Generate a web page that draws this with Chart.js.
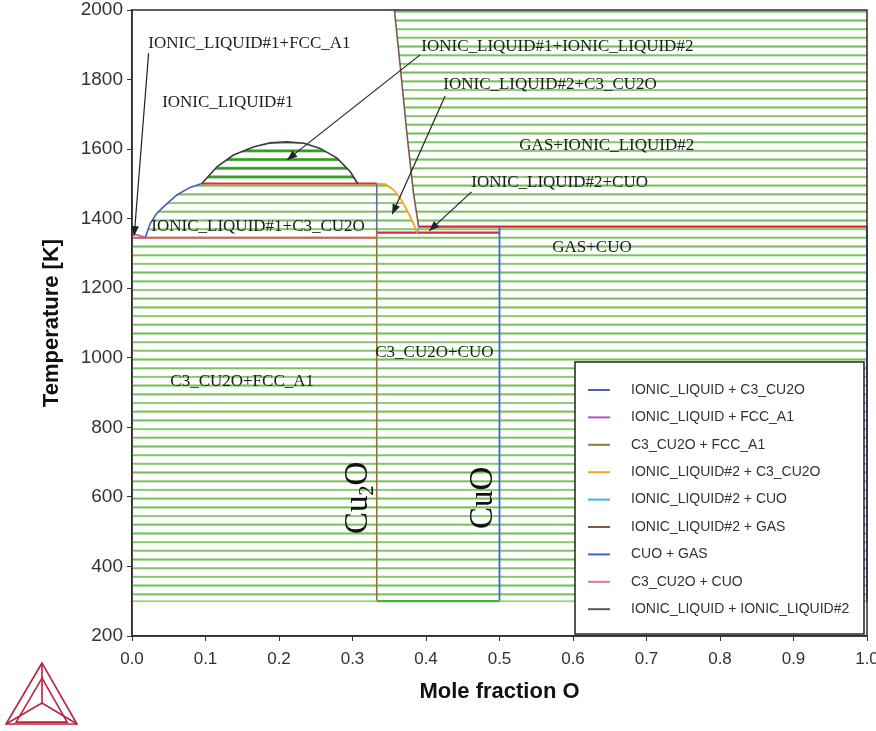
<!DOCTYPE html>
<html>
<head>
<meta charset="utf-8">
<script src="https://cdn.jsdelivr.net/npm/chart.js@4/dist/chart.umd.min.js"></script>
<style>
  html, body { margin: 0; padding: 0; background: #fff; }
  #wrap { width: 876px; height: 731px; }
</style>
</head>
<body>
<div id="wrap"><canvas id="c" width="876" height="731"></canvas></div>
<script>
// Cu–O phase diagram: x = mole fraction O, T in kelvin

// invariant temperatures and line compounds
const X_CU2O = 0.333;
const X_CUO = 0.5;
const T_LOW = 300;        // lowest calculated temperature
const T_EUTECTIC = 1345;  // liquid#1 + Cu2O + fcc
const T_MONOTECTIC = 1501;
const T_CU2O_CUO = 1360;  // liquid#2 + Cu2O + CuO
const T_CUO_GAS = 1377;   // liquid#2 + CuO + gas
const T_TOP = 2000;

// liquidus of Cu2O on the Cu side (IONIC_LIQUID + C3_CU2O)
const liqCu2O_x = [0.018, 0.025, 0.034, 0.048, 0.061, 0.079, 0.095];
const liqCu2O_T = [1346, 1387, 1416, 1444, 1468, 1490, 1501];

// liquidus of Cu (IONIC_LIQUID + FCC_A1)
const liqFcc_x = [0.0, 0.018];
const liqFcc_T = [1358, 1346];

// liquid miscibility gap (IONIC_LIQUID + IONIC_LIQUID#2)
const gap_x = [0.095, 0.116, 0.138, 0.166, 0.188, 0.211, 0.234, 0.256, 0.279, 0.297, 0.307];
const gap_T = [1501, 1550, 1583, 1607, 1618, 1621, 1617, 1602, 1574, 1535, 1501];

// liquidus of Cu2O on the O side (IONIC_LIQUID#2 + C3_CU2O)
const liq2Cu2O_x = [0.333, 0.345, 0.356, 0.365, 0.374, 0.381, 0.388];
const liq2Cu2O_T = [1501, 1499, 1483, 1459, 1425, 1396, 1360];

// IONIC_LIQUID#2 + CUO
const liq2CuO_x = [0.388, 0.390];
const liq2CuO_T = [1360, 1377];

// IONIC_LIQUID#2 + GAS
const liq2Gas_x = [0.390, 0.383, 0.374, 0.365, 0.357];
const liq2Gas_T = [1377, 1473, 1645, 1837, 2000];

// axis ticks
const xTicks = [0, 0.1, 0.2, 0.3, 0.4, 0.5, 0.6, 0.7, 0.8, 0.9, 1.0];
const yTicks = [200, 400, 600, 800, 1000, 1200, 1400, 1600, 1800, 2000];

// tie-line spacing inside two-phase fields
const TIE_STEP = 25;
const TIE_REF = 320;

// legend
const legendLabels = [
  'IONIC_LIQUID + C3_CU2O', 'IONIC_LIQUID + FCC_A1', 'C3_CU2O + FCC_A1',
  'IONIC_LIQUID#2 + C3_CU2O', 'IONIC_LIQUID#2 + CUO', 'IONIC_LIQUID#2 + GAS',
  'CUO + GAS', 'C3_CU2O + CUO', 'IONIC_LIQUID + IONIC_LIQUID#2'
];
const legendColors = [
  '#4f5bb0', '#b34fc8', '#8c7d45', '#f5a623', '#41b6e6', '#7b5a4a',
  '#3f66d8', '#cf7d93', '#5a5a5a'
];

// phase field labels
const fieldText = [
  'IONIC_LIQUID#1+FCC_A1', 'IONIC_LIQUID#1', 'IONIC_LIQUID#1+IONIC_LIQUID#2',
  'IONIC_LIQUID#2+C3_CU2O', 'GAS+IONIC_LIQUID#2', 'IONIC_LIQUID#2+CUO',
  'IONIC_LIQUID#1+C3_CU2O', 'GAS+CUO', 'C3_CU2O+CUO', 'C3_CU2O+FCC_A1'
];
const fieldX = [0.0222, 0.041, 0.3936, 0.4235, 0.527, 0.4616, 0.0263, 0.5718, 0.331, 0.0521];
const fieldT = [1905, 1735, 1896, 1787, 1609, 1505, 1376, 1316, 1014, 933];

// pointer arrows for the narrow fields
const arrowFromX = [0.0226, 0.392, 0.426, 0.462];
const arrowFromT = [1876, 1871, 1753, 1477];
const arrowToX = [0.003, 0.211, 0.354, 0.4045];
const arrowToT = [1350, 1569, 1413, 1365];

// compound labels (written vertically)
const compoundX = [0.3054, 0.4753];
const compoundT = [597, 597];

const SANS = '"Liberation Sans", Arial, Helvetica, sans-serif';
const SERIF = '"Liberation Serif", "Times New Roman", serif';

// horizontal-line hatch used to fill two-phase fields
const mainCtx = document.getElementById('c').getContext('2d');
const PAT_H = 20;
function makeHatch(halo, core, haloW, coreW) {
  const pc = document.createElement('canvas');
  pc.width = 4; pc.height = PAT_H;
  const g = pc.getContext('2d');
  g.fillStyle = halo;
  g.fillRect(0, PAT_H / 2 - haloW / 2, 4, haloW);
  g.fillStyle = core;
  g.fillRect(0, PAT_H / 2 - coreW / 2, 4, coreW);
  return mainCtx.createPattern(pc, 'repeat');
}
const hatchLight = makeHatch('#b4dea2', '#74c05c', 6, 2.6);
const hatchDark = makeHatch('#5cb04a', '#2f9a22', 7, 3.4);

const pts = (xs, ts) => xs.map((x, i) => ({ x, y: ts[i] }));

function boundary(xs, ts, color, width) {
  return {
    data: pts(xs, ts), borderColor: color, borderWidth: width || 1.6,
    pointRadius: 0, fill: false, tension: 0, order: 1, clip: false
  };
}
function field(xs, ts, hatch) {
  return {
    data: pts(xs, ts), borderWidth: 0, borderColor: 'rgba(0,0,0,0)',
    backgroundColor: hatch, fill: 'shape', pointRadius: 0, tension: 0, order: 10
  };
}
const rev = a => a.slice().reverse();
const last = a => a[a.length - 1];

const datasets = [
  // two-phase fields (hatched)
  field([0, 0, X_CU2O, X_CU2O], [T_LOW, T_EUTECTIC, T_EUTECTIC, T_LOW], hatchLight),
  field(liqCu2O_x.concat([X_CU2O, X_CU2O]), liqCu2O_T.concat([T_MONOTECTIC, T_EUTECTIC]), hatchLight),
  field(gap_x, gap_T, hatchDark),
  field([X_CU2O, X_CU2O, X_CUO, X_CUO], [T_LOW, T_CU2O_CUO, T_CU2O_CUO, T_LOW], hatchLight),
  field([X_CU2O].concat(liq2Cu2O_x), [T_CU2O_CUO].concat(liq2Cu2O_T), hatchLight),
  field([X_CUO, X_CUO, 1, 1], [T_LOW, T_CUO_GAS, T_CUO_GAS, T_LOW], hatchLight),
  field(liq2CuO_x.concat([X_CUO, X_CUO]), liq2CuO_T.concat([T_CUO_GAS, T_CU2O_CUO]), hatchLight),
  field(rev(liq2Gas_x).concat([1, 1]), rev(liq2Gas_T).concat([T_CUO_GAS, T_TOP]), hatchLight),

  // lowest tie-lines
  boundary([0, X_CU2O], [T_LOW, T_LOW], '#9ed38a', 2),
  boundary([X_CUO, 1], [T_LOW, T_LOW], '#9ed38a', 2),
  boundary([X_CU2O, X_CUO], [T_LOW, T_LOW], '#4fae3a', 2.2),

  // phase boundaries
  boundary(liqCu2O_x, liqCu2O_T, legendColors[0]),
  boundary(liqFcc_x, liqFcc_T, legendColors[1]),
  boundary([X_CU2O, X_CU2O], [T_LOW, T_CU2O_CUO], '#96703f', 1.6),
  boundary([X_CU2O, X_CU2O], [T_CU2O_CUO, T_MONOTECTIC], '#6a6aa0', 1.6),
  boundary(liq2Cu2O_x, liq2Cu2O_T, legendColors[3], 1.8),
  boundary(liq2CuO_x, liq2CuO_T, legendColors[4], 1.8),
  boundary(liq2Gas_x, liq2Gas_T, legendColors[5], 1.6),
  boundary([X_CUO, X_CUO], [T_LOW, T_CUO_GAS], legendColors[6], 1.8),
  boundary([1, 1], [T_LOW, T_CUO_GAS], legendColors[6], 2),
  boundary(gap_x, gap_T, '#3a3a3a', 1.6),

  // three-phase invariants
  boundary([0, X_CU2O], [T_EUTECTIC, T_EUTECTIC], '#e45866', 2),
  boundary([last(liqCu2O_x), X_CU2O], [T_MONOTECTIC, T_MONOTECTIC], '#e0312a', 2),
  boundary([X_CU2O, X_CUO], [T_CU2O_CUO, T_CU2O_CUO], '#e0262e', 2.4),
  boundary([liq2CuO_x[1], 1], [T_CUO_GAS, T_CUO_GAS], '#e0262e', 2.4)
];

function arrow(ctx, x1, y1, x2, y2) {
  ctx.beginPath(); ctx.moveTo(x1, y1); ctx.lineTo(x2, y2); ctx.stroke();
  const a = Math.atan2(y2 - y1, x2 - x1), L = 10, W = 4;
  ctx.beginPath();
  ctx.moveTo(x2, y2);
  ctx.lineTo(x2 - L * Math.cos(a) + W * Math.sin(a), y2 - L * Math.sin(a) - W * Math.cos(a));
  ctx.lineTo(x2 - L * Math.cos(a) - W * Math.sin(a), y2 - L * Math.sin(a) + W * Math.cos(a));
  ctx.closePath(); ctx.fill();
}

function vertical(ctx, x, y, parts) {
  // parts: [text, isSubscript]
  ctx.save();
  ctx.translate(x, y);
  ctx.rotate(-Math.PI / 2);
  let w = 0;
  for (const [t, sub] of parts) {
    ctx.font = (sub ? 20 : 33) + 'px ' + SERIF;
    w += ctx.measureText(t).width;
  }
  let cx = -w / 2;
  ctx.textBaseline = 'alphabetic';
  ctx.textAlign = 'left';
  for (const [t, sub] of parts) {
    ctx.font = (sub ? 20 : 33) + 'px ' + SERIF;
    ctx.fillText(t, cx, sub ? 17 : 11);
    cx += ctx.measureText(t).width;
  }
  ctx.restore();
}

const overlay = {
  id: 'overlay',
  beforeDraw(chart) {
    const ys = chart.scales.y;
    const spacing = Math.abs(ys.getPixelForValue(TIE_REF + TIE_STEP) - ys.getPixelForValue(TIE_REF));
    const s = spacing / PAT_H;
    const off = ys.getPixelForValue(TIE_REF) - (PAT_H / 2) * s;
    for (const p of [hatchLight, hatchDark]) {
      p.setTransform(new DOMMatrix([1, 0, 0, s, 0, off]));
    }
  },
  afterDraw(chart) {
    const ctx = chart.ctx, ca = chart.chartArea;
    const xs = chart.scales.x, ys = chart.scales.y;
    ctx.save();
    // frame
    ctx.strokeStyle = '#2b2b2b';
    ctx.lineWidth = 1.5;
    ctx.strokeRect(ca.left, ca.top, ca.right - ca.left, ca.bottom - ca.top);

    // field labels
    ctx.fillStyle = '#1c1c1c';
    ctx.font = '17px ' + SERIF;
    ctx.textAlign = 'left';
    ctx.textBaseline = 'middle';
    fieldText.forEach((t, i) => {
      ctx.fillText(t, xs.getPixelForValue(fieldX[i]), ys.getPixelForValue(fieldT[i]));
    });

    // arrows
    ctx.strokeStyle = '#222';
    ctx.fillStyle = '#222';
    ctx.lineWidth = 1.2;
    arrowFromX.forEach((_, i) => {
      arrow(ctx,
        xs.getPixelForValue(arrowFromX[i]), ys.getPixelForValue(arrowFromT[i]),
        xs.getPixelForValue(arrowToX[i]), ys.getPixelForValue(arrowToT[i]));
    });

    // compound names
    ctx.fillStyle = '#111';
    vertical(ctx, xs.getPixelForValue(compoundX[0]), ys.getPixelForValue(compoundT[0]),
      [['Cu', false], ['2', true], ['O', false]]);
    vertical(ctx, xs.getPixelForValue(compoundX[1]), ys.getPixelForValue(compoundT[1]),
      [['CuO', false]]);

    // legend box
    const lx = ca.right - 292, ly = ca.bottom - 274, lw = 289, lh = 272;
    ctx.fillStyle = '#fff';
    ctx.fillRect(lx, ly, lw, lh);
    ctx.strokeStyle = '#222';
    ctx.lineWidth = 1.5;
    ctx.strokeRect(lx, ly, lw, lh);
    ctx.font = '14px ' + SANS;
    ctx.textBaseline = 'middle';
    legendLabels.forEach((t, i) => {
      const yy = ly + 28 + i * 27.4;
      ctx.strokeStyle = legendColors[i];
      ctx.lineWidth = 2;
      ctx.beginPath(); ctx.moveTo(lx + 13, yy); ctx.lineTo(lx + 35, yy); ctx.stroke();
      ctx.fillStyle = '#333';
      ctx.fillText(t, lx + 56, yy);
    });

    // logo
    ctx.strokeStyle = '#b8243f';
    ctx.lineWidth = 1.6;
    const A = [42, 663], B = [6, 724], C = [77, 724], O = [42, 703];
    ctx.beginPath(); ctx.moveTo(...A); ctx.lineTo(...B); ctx.lineTo(...C); ctx.closePath(); ctx.stroke();
    const k = 0.72;
    const inner = [A, B, C].map(p => [O[0] + (p[0] - O[0]) * k, O[1] + (p[1] - O[1]) * k + 4]);
    ctx.beginPath(); ctx.moveTo(...inner[0]); ctx.lineTo(...inner[1]); ctx.lineTo(...inner[2]); ctx.closePath(); ctx.stroke();
    ctx.beginPath();
    for (const p of [A, B, C]) { ctx.moveTo(...O); ctx.lineTo(...p); }
    ctx.stroke();
    ctx.restore();
  }
};

new Chart(document.getElementById('c'), {
  type: 'line',
  data: { datasets },
  options: {
    responsive: false,
    animation: false,
    devicePixelRatio: 1,
    layout: { padding: { left: 0, right: 9, top: 10, bottom: 0 } },
    plugins: { legend: { display: false }, tooltip: { enabled: false } },
    scales: {
      x: {
        type: 'linear', min: 0, max: 1,
        afterBuildTicks: s => { s.ticks = xTicks.map(v => ({ value: v })); },
        ticks: {
          callback: v => Number(v).toFixed(1), color: '#333', padding: 8,
          maxRotation: 0, autoSkip: false, font: { family: SANS, size: 17 }
        },
        grid: { drawOnChartArea: false, tickLength: 5, color: '#333' },
        border: { display: true, color: '#333', width: 1.5 },
        title: {
          display: true, text: 'Mole fraction O', color: '#111',
          font: { family: SANS, size: 22, weight: 'bold' }, padding: { top: 0, bottom: 26 }
        },
        afterFit: s => { s.height = 95; s.paddingLeft = 0; s.paddingRight = 0; }
      },
      y: {
        type: 'linear', min: 200, max: 2000,
        afterBuildTicks: s => { s.ticks = yTicks.map(v => ({ value: v })); },
        ticks: {
          callback: v => String(v), color: '#333', padding: 4,
          font: { family: SANS, size: 19 }
        },
        grid: { drawOnChartArea: false, tickLength: 5, color: '#333' },
        border: { display: true, color: '#333', width: 1.5 },
        title: {
          display: true, text: 'Temperature [K]', color: '#111',
          font: { family: SANS, size: 22, weight: 'bold' }, padding: { top: 39, bottom: 0 }
        },
        afterFit: s => { s.width = 132; s.paddingTop = 0; s.paddingBottom = 0; }
      }
    }
  },
  plugins: [overlay]
});
</script>
</body>
</html>
